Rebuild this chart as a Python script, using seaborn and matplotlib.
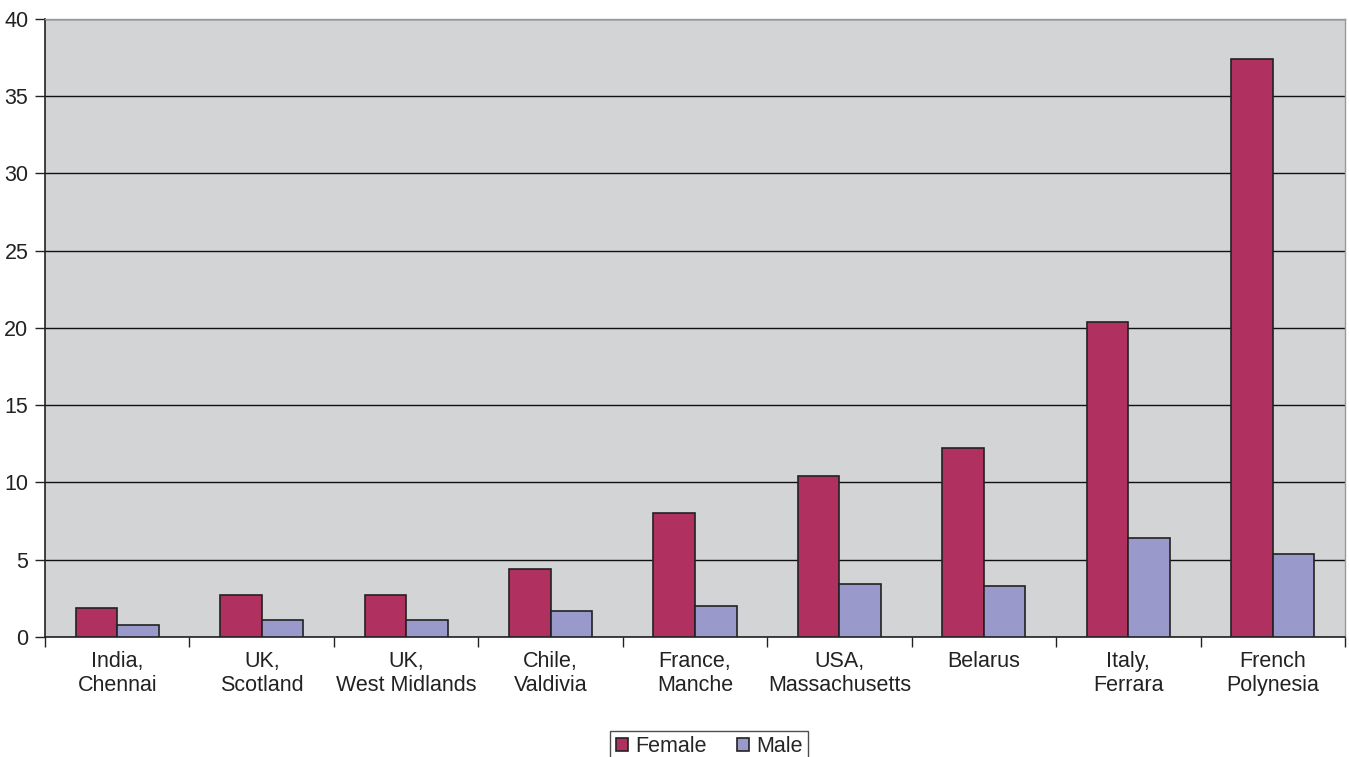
import matplotlib
matplotlib.use("Agg")
import matplotlib.pyplot as plt
from matplotlib.ticker import FixedLocator
import seaborn as sns
import pandas as pd
import numpy as np

# Incidence by region and sex
regions = [
    "India,\nChennai", "UK,\nScotland", "UK,\nWest Midlands", "Chile,\nValdivia",
    "France,\nManche", "USA,\nMassachusetts", "Belarus", "Italy,\nFerrara",
    "French\nPolynesia",
]
female = [1.9, 2.7, 2.7, 4.4, 8.0, 10.4, 12.2, 20.4, 37.4]
male = [0.8, 1.1, 1.1, 1.7, 2.0, 3.4, 3.3, 6.4, 5.4]
series = ["Female", "Male"]
y_ticks = [0, 5, 10, 15, 20, 25, 30, 35, 40]

df = pd.DataFrame({
    "region": regions * 2,
    "value": female + male,
    "sex": [series[0]] * len(regions) + [series[1]] * len(regions),
})

sns.set_theme(style="white")
plt.rcParams["font.family"] = ["Liberation Sans", "DejaVu Sans"]

fig = plt.figure(figsize=(13.49, 7.57), dpi=100)
ax = fig.add_axes([0.0334, 0.1585, 0.9636, 0.8165])
ax.set_facecolor("#D3D4D6")

palette = {"Female": "#B03060", "Male": "#9999CC"}
sns.barplot(data=df, x="region", y="value", hue="sex", palette=palette,
            width=0.575, edgecolor="#222222", linewidth=1.2, saturation=1,
            ax=ax, zorder=3)

ax.set_ylim(0, 40)
ax.set_xlim(-0.5, len(regions) - 0.5)
ax.set_yticks(y_ticks)
ax.set_yticklabels([str(t) for t in y_ticks], fontsize=15.5, color="#222222")
ax.yaxis.grid(True, color="#111111", linewidth=1.0, zorder=1)
ax.set_axisbelow(True)

ax.tick_params(axis="x", which="major", length=0, labelsize=15.5,
               labelcolor="#222222", pad=10)
ax.xaxis.set_minor_locator(FixedLocator(np.arange(-0.5, len(regions) + 0.5, 1)))
ax.tick_params(axis="x", which="minor", length=7, width=1, color="#222222",
               direction="out", bottom=True)
ax.tick_params(axis="y", length=7, width=1, color="#222222", direction="out",
               left=True, pad=5)

ax.set_xlabel("")
ax.set_ylabel("")

for side in ["left", "bottom"]:
    ax.spines[side].set_color("#222222")
    ax.spines[side].set_linewidth(1.2)
for side in ["top", "right"]:
    ax.spines[side].set_color("#999999")
    ax.spines[side].set_linewidth(1.0)

handles, labels = ax.get_legend_handles_labels()
if ax.legend_:
    ax.legend_.remove()
leg = fig.legend(handles, labels, loc="upper center", ncol=2,
                 bbox_to_anchor=(709 / 1349, 1 - 720 / 757),
                 frameon=True, fancybox=False, edgecolor="#222222",
                 fontsize=15.5, handlelength=0.6, handleheight=0.6,
                 handletextpad=0.3, columnspacing=1.4, borderpad=0.25)
leg.get_frame().set_linewidth(1.0)

fig.savefig("out.png", dpi=100)
